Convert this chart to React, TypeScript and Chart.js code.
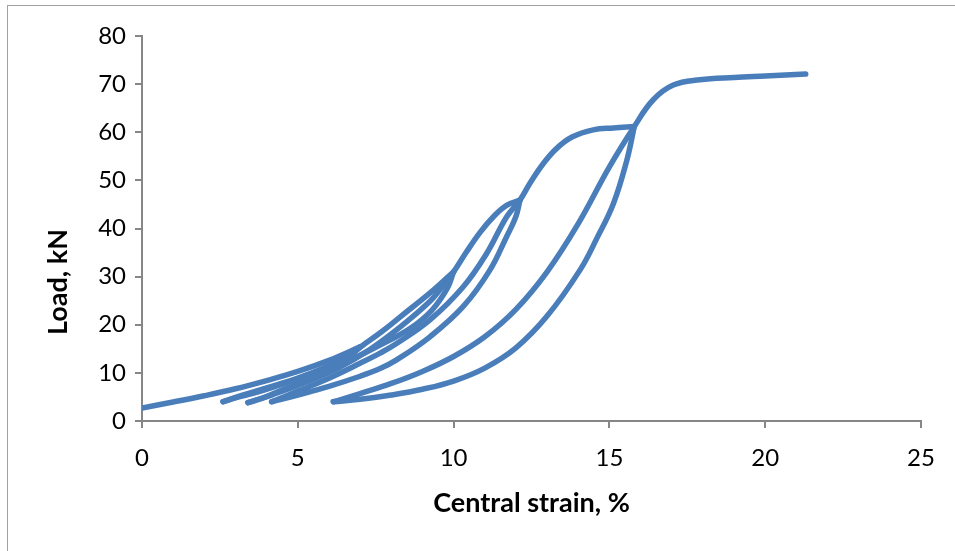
import React, { useEffect, useRef } from "react";
import { Chart, registerables } from "chart.js";

Chart.register(...registerables);

// Load (kN) vs central strain (%) — cyclic loading path, split into segments
const initialLoading: [number, number][] = [[0, 2.7], [1, 3.95], [2, 5.25], [3, 6.7], [4, 8.4], [5, 10.3], [6, 12.6], [7, 15.4]];
const unload1: [number, number][] = [[7, 15.4], [6.7, 13.6], [6.2, 11.9], [5.5, 10.0], [4.6, 7.9], [3.7, 6.0], [3.0, 4.8], [2.6, 4.0]];
const reload1: [number, number][] = [[2.6, 4.0], [3.2, 5.3], [4, 6.9], [5, 8.9], [6, 11.5], [6.6, 13.5], [7.1, 15.8], [7.7, 18.6], [8.3, 21.7], [9.35, 27.2], [10, 31.0]];
const unload2: [number, number][] = [[10, 31.0], [9.8, 27.6], [9.3, 23.0], [8.6, 19.2], [7.64, 15.8], [6.6, 12.4], [5.6, 9.5], [4.7, 7.0], [4.0, 5.1], [3.4, 3.8]];
const reload2: [number, number][] = [[3.4, 3.8], [4.2, 5.5], [5.2, 7.9], [6.3, 11.0], [7.3, 14.8], [8.3, 19.6], [9.2, 24.6], [9.6, 27.6], [10, 31.0], [10.4, 35.0], [10.85, 39.2], [11.3, 42.6], [11.7, 44.8], [12.13, 45.9]];
const unload3: [number, number][] = [[12.13, 45.9], [12.0, 42.5], [11.7, 38.3], [11.17, 31.4], [10.31, 23.8], [9.24, 17.5], [8.17, 12.7], [7.64, 10.9], [7, 9.3], [6, 7.2], [5, 5.4], [4.16, 4.0]];
const reload3: [number, number][] = [[4.16, 4.0], [5, 6.2], [6, 8.9], [7, 12.0], [7.64, 14.1], [8.17, 16.1], [9.24, 21.0], [10.31, 27.9], [11.06, 34.8], [11.7, 42.4], [12.13, 45.9], [12.45, 49.4], [12.88, 53.5], [13.3, 56.6], [13.8, 59.0], [14.48, 60.5], [15.13, 60.9], [15.8, 61.2]];
const unload4: [number, number][] = [[15.8, 61.2], [15.56, 54.2], [15.13, 45.2], [14.6, 38.0], [14.06, 31.4], [13, 21.8], [12, 15.2], [11, 11.0], [10, 8.3], [9, 6.6], [8, 5.4], [7, 4.5], [6.14, 4.0]];
const reload4: [number, number][] = [[6.14, 4.0], [7, 5.7], [8, 7.8], [9, 10.3], [10, 13.4], [11, 17.5], [12, 23.2], [13, 31.0], [14, 41.0], [15, 52.8], [15.8, 61.2], [16.4, 66.7], [17.05, 69.8], [17.9, 70.9], [19, 71.4], [20, 71.7], [21.3, 72.1]];

const segments = [initialLoading, unload1, reload1, unload2, reload2, unload3, reload3, unload4, reload4];

const xTicks = [0, 5, 10, 15, 20, 25];
const yTicks = [0, 10, 20, 30, 40, 50, 60, 70, 80];
const xTitle = "Central strain, %";
const yTitle = "Load, kN";

const LINE = "#4A7EBB";
const AXIS = "#868686";
const FONT = "Lato, 'Liberation Sans', sans-serif";

const yTitlePlugin = {
  id: "yTitleDraw",
  afterDraw(chart: any) {
    const ctx = chart.ctx;
    ctx.save();
    ctx.translate(58, 282);
    ctx.rotate(-Math.PI / 2);
    ctx.font = `bold 27px ${FONT}`;
    ctx.fillStyle = "#000";
    ctx.textAlign = "center";
    ctx.textBaseline = "middle";
    ctx.fillText(yTitle, 0, 0);
    ctx.restore();
  },
};

export default function App() {
  const ref = useRef<HTMLCanvasElement | null>(null);
  useEffect(() => {
    if (!ref.current) return;
    const chart = new Chart(ref.current, {
      type: "scatter",
      data: {
        datasets: segments.map((seg) => ({
          data: seg.map(([x, y]) => ({ x, y })),
          showLine: true,
          borderColor: LINE,
          backgroundColor: LINE,
          borderWidth: 5.5,
          borderCapStyle: "round",
          borderJoinStyle: "round",
          pointRadius: 0,
          tension: 0.4,
        })),
      },
      options: {
        animation: false,
        responsive: false,
        devicePixelRatio: 1,
        layout: { padding: { top: 36, right: 34, left: 0, bottom: 0 } },
        plugins: { legend: { display: false }, tooltip: { enabled: false } },
        scales: {
          x: {
            type: "linear",
            min: 0,
            max: 25,
            afterBuildTicks: (s: any) => { s.ticks = xTicks.map((v) => ({ value: v })); },
            afterFit: (s: any) => { s.height = 130; },
            border: { color: AXIS, width: 2 },
            grid: { drawOnChartArea: false, drawTicks: true, tickLength: 7, color: AXIS, lineWidth: 2 },
            ticks: { color: "#000", font: { family: FONT, size: 24 }, padding: 16 },
            title: { display: true, text: xTitle, color: "#000", font: { family: FONT, size: 27, weight: "bold" }, padding: { top: 0, bottom: 32 } },
          },
          y: {
            type: "linear",
            min: 0,
            max: 80,
            afterBuildTicks: (s: any) => { s.ticks = yTicks.map((v) => ({ value: v })); },
            afterFit: (s: any) => { s.width = 142; },
            border: { color: AXIS, width: 2 },
            grid: { drawOnChartArea: false, drawTicks: true, tickLength: 7, color: AXIS, lineWidth: 2 },
            ticks: { color: "#000", font: { family: FONT, size: 24 }, padding: 9 },
            title: { display: false, text: yTitle },
          },
        },
      },
      plugins: [yTitlePlugin],
    });
    return () => chart.destroy();
  }, []);
  return (
    <div style={{ position: "fixed", left: 0, top: 0, width: 955, height: 551, background: "#fff", overflow: "hidden" }}>
      <div style={{ position: "absolute", left: 7, top: 5, width: 1000, height: 600, border: "1px solid #a0a0a0", boxSizing: "border-box" }} />
      <canvas ref={ref} width={955} height={551} style={{ position: "absolute", left: 0, top: 0 }} />
    </div>
  );
}
